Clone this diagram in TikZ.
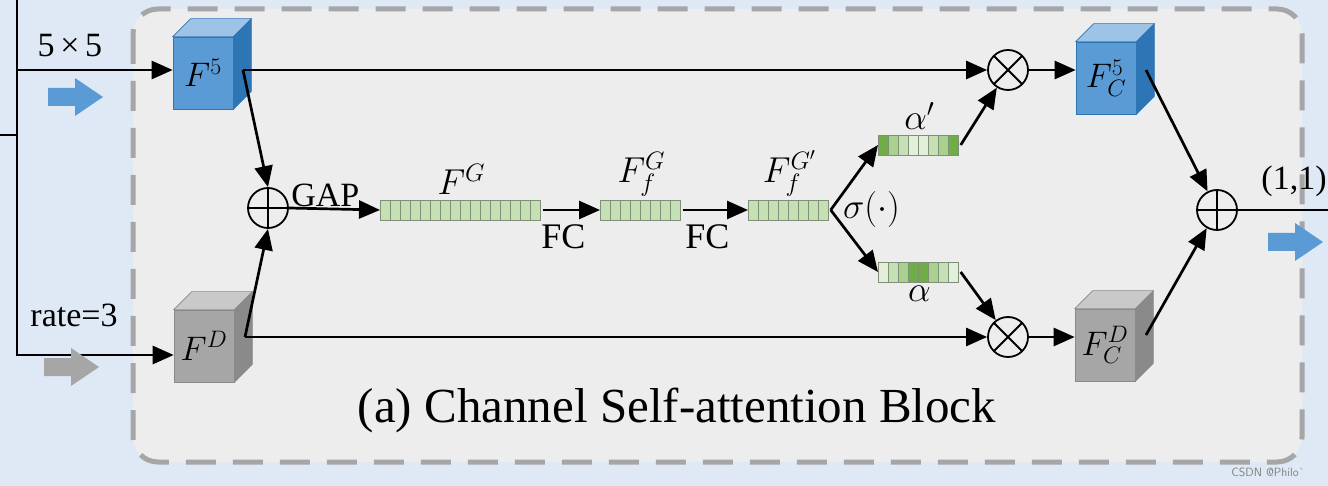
\RequirePackage{fix-cm}
\documentclass[tikz,border=0pt]{standalone}
\usepackage{fontspec}
\setmainfont{Liberation Serif}
\usetikzlibrary{arrows.meta,calc}

\definecolor{bgblue}{HTML}{DEE9F5}
\definecolor{blockgray}{HTML}{EDEDED}
\definecolor{dashgray}{HTML}{A6A6A6}
\definecolor{bluefront}{HTML}{5B9BD5}
\definecolor{bluetop}{HTML}{9DC3E6}
\definecolor{blueside}{HTML}{2E75B6}
\definecolor{grayfront}{HTML}{A6A6A6}
\definecolor{graytop}{HTML}{C9C9C9}
\definecolor{grayside}{HTML}{8A8A8A}
\definecolor{gA}{HTML}{70AD47}
\definecolor{gB}{HTML}{A9D18E}
\definecolor{gC}{HTML}{C5E0B4}
\definecolor{gD}{HTML}{E2F0D9}
\definecolor{barline}{HTML}{7F8F78}

\tikzset{
  lbl/.style={font=\fontsize{34}{36}\selectfont, inner sep=1pt},
  mlbl/.style={font=\fontsize{36}{38}\selectfont, inner sep=1pt},
  fclbl/.style={font=\fontsize{36}{38}\selectfont, inner sep=1pt, below, midway, yshift=-12, xshift=-8},
  caption/.style={font=\fontsize{49}{52}\selectfont},
  cubeface/.style={minimum width=60pt, minimum height=72pt, inner sep=0pt, draw=#1, line width=0.6pt},
  barbox/.style={minimum height=20pt, inner sep=0pt},
  opplus/.style={circle, draw, minimum size=40pt, inner sep=0pt, line width=1.8pt,
    path picture={\draw[line width=1.8pt] (path picture bounding box.north) -- (path picture bounding box.south)
      (path picture bounding box.west) -- (path picture bounding box.east);}},
  optimes/.style={circle, draw, minimum size=40pt, inner sep=0pt, line width=1.8pt,
    path picture={\draw[line width=1.8pt] (path picture bounding box.center) +(45:22pt) -- +(225:22pt)
      +(135:22pt) -- +(315:22pt);}},
}

% cube: name, x, y, front, top, side, label
\newcommand{\featcube}[7]{%
  \node[cubeface=#6, fill=#4, font=\fontsize{34}{36}\selectfont] (#1) at (#2,#3) {#7};
  \filldraw[fill=#5, draw=#6, line width=0.6pt] (#1.north west) -- ++(18,-18) -- ($(#1.north east)+(18,-18)$) -- (#1.north east) -- cycle;
  \filldraw[fill=#6, draw=#6, line width=0.6pt] (#1.north east) -- ++(18,-18) -- ($(#1.south east)+(18,-18)$) -- (#1.south east) -- cycle;
}
% bar of cells: name, left x, y, cells, colours
\newcommand{\featbar}[5]{%
  \node[barbox, minimum width=#4*10pt, anchor=west] (#1) at (#2,#3) {};
  \foreach \c [count=\i] in {#5}
    \filldraw[fill=\c, draw=barline, line width=0.8pt] (#2+\i*10-10,#3-10) rectangle ++(10,20);
}
% fat arrow: left x, y, colour
\newcommand{\fatarrow}[3]{%
  \fill[#3] (#1,#2-9) -- (#1+27,#2-9) -- (#1+27,#2-19) -- (#1+55,#2) -- (#1+27,#2+19) -- (#1+27,#2+9) -- (#1,#2+9) -- cycle;
}

\begin{document}
\begin{tikzpicture}[x=1pt,y=-1pt,line width=2.7pt,>={Triangle[length=21pt,width=18pt]}]
\useasboundingbox (0,0) rectangle (1328,486);
\fill[bgblue] (0,0) rectangle (1328,486);
\draw[dashgray, fill=blockgray, line width=5pt, dash pattern=on 30pt off 17pt, rounded corners=25pt]
  (133,9) rectangle (1302,462);

% input side
\coordinate (ltop) at (17,0);
\coordinate (lmid) at (17,135);
\coordinate (lin) at (0,135);
\draw (lin) -- (lmid);
\featcube{f5}{203}{73}{bluefront}{bluetop}{blueside}{$F^5$}
\featcube{fd}{204}{346}{grayfront}{graytop}{grayside}{$F^D$}
\draw[->] (ltop) |- ([yshift=3]f5.west);
\draw[->] (ltop) |- ([yshift=-9]fd.west);
\node[lbl] (l55) at (70,46) {5\,×\,5};
\node[lbl] (lrate) at (74,315) {rate=3};
\fatarrow{48}{97}{bluefront}
\fatarrow{44}{367}{grayfront}

% fusion and GAP
\node[opplus] (add1) at (268,208) {};
\coordinate (f5out) at (243,70);
\coordinate (fdout) at (245,337);
\node[optimes] (mul1) at (1008,70) {};
\node[optimes] (mul2) at (1008,337) {};
\draw[->] (f5out) -- (add1.north);
\draw[->] (fdout) -- (add1.south);
\draw[->] (f5out) -- (mul1.west);
\draw[->] (fdout) -- (mul2.west);

\featbar{fg}{380}{210}{16}{gC,gC,gC,gC,gC,gC,gC,gC,gC,gC,gC,gC,gC,gC,gC,gC}
\featbar{ff}{600}{210}{8}{gC,gC,gC,gC,gC,gC,gC,gC}
\featbar{ffp}{748}{210}{8}{gC,gC,gC,gC,gC,gC,gC,gC}
\featbar{ap}{878}{145}{8}{gA,gB,gC,gD,gD,gC,gB,gA}
\featbar{a}{878}{272}{8}{gD,gC,gB,gA,gA,gB,gC,gD}

\draw[->] (add1.east) -- (fg.west) node[lbl, above, pos=0.4] {GAP};
\draw[->] (fg.east) -- (ff.west) node[fclbl] {FC};
\draw[->] (ff.east) -- (ffp.west) node[fclbl] {FC};
\node[mlbl, above=2pt] (lfg) at (fg.north) {$F^G$};
\node[mlbl, above=0pt] (lff) at (ff.north) {$F_f^G$};
\node[mlbl, above=0pt] (lffp) at (ffp.north) {$F_f^{G'}$};

% attention weights
\draw[->] (ffp.east) -- (ap.west);
\draw[->] (ffp.east) -- (a.west);
\node[mlbl, right] (lsig) at ([xshift=10]ffp.east) {$\sigma(\cdot)$};
\node[mlbl, above=2pt] (lap) at (ap.north) {$\alpha'$};
\node[mlbl, below=0pt] (la) at (a.south) {$\alpha$};
\draw[->] (ap.east) -- (mul1);
\draw[->] (a.east) -- (mul2);

% output side
\featcube{fc5}{1106}{78}{bluefront}{bluetop}{blueside}{$F_C^5$}
\featcube{fcd}{1105}{345}{grayfront}{graytop}{grayside}{$F_C^D$}
\draw[->] (mul1.east) -- (mul1.east -| fc5.west);
\draw[->] (mul2.east) -- (mul2.east -| fcd.west);
\node[opplus] (add2) at (1217,210) {};
\coordinate (fc5out) at (1146,70);
\coordinate (fcdout) at (1146,335);
\coordinate (out) at (1328,210);
\draw[->] (fc5out) -- (add2);
\draw[->] (fcdout) -- (add2);
\draw (add2.east) -- (out);
\node[lbl] (l11) at (1294,181) {(1,1)};
\fatarrow{1268}{242}{bluefront}

\node[caption] (cap) at (677,410) {(a) Channel Self-attention Block};
\node[font=\fontsize{12}{12}\sffamily, text=gray] (mark) at (1268,472) {CSDN @Philo\`{}};
\end{tikzpicture}
\end{document}
